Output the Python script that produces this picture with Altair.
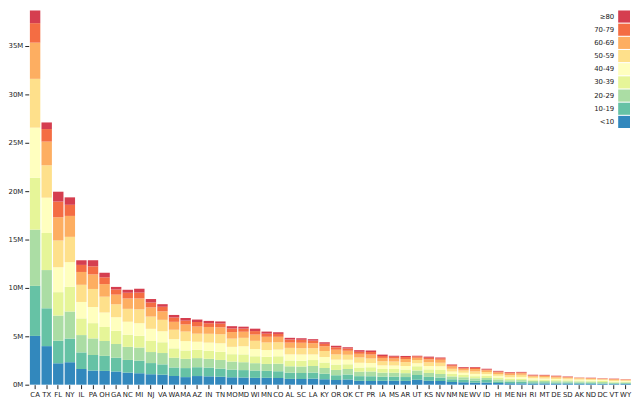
import altair as alt
import pandas as pd

states = ["CA","TX","FL","NY","IL","PA","OH","GA","NC","MI","NJ","VA","WA","MA","AZ","IN","TN","MO","MD","WI",
          "MN","CO","AL","SC","LA","KY","OR","OK","CT","PR","IA","MS","AR","UT","KS","NV","NM","NE","WV","ID",
          "HI","ME","NH","RI","MT","DE","SD","AK","ND","DC","VT","WY"]

ages = ["<10", "10-19", "20-29", "30-39", "40-49", "50-59", "60-69", "70-79", "≥80"]
colors = ["#3288bd", "#66c2a5", "#abdda4", "#e6f598", "#ffffbf", "#fee08b", "#fdae61", "#f46d43", "#d53e4f"]

under_10 = [5038433,3983091,2211012,2319945,1619682,1458931,1422838,1363930,1249576,1182117,1079136,1033629,895790,781087,892083,863029,818404,763948,741952,705648,711604,690830,598478,599591,625159,553127,485345,535353,399369,389428,401712,400288,392177,513515,401751,369362,276468,263518,207017,236658,176484,137954,138762,111377,126020,112177,120366,106741,99477,74377,63768,78217]
a10_19 = [5170341,3910528,2331102,2446188,1715984,1608018,1555069,1421557,1306640,1303424,1153625,1065461,882812,933346,912735,905594,842873,792935,764730,755224,714399,697447,638789,619144,618618,575793,489727,528917,481065,479749,418667,421329,397185,479126,402092,360263,282662,246340,218547,239509,163559,155490,171154,136885,126294,117854,113383,99926,91069,62783,79351,75535]
a20_29 = [5809455,3946447,2597830,2790916,1789739,1712448,1535961,1418696,1350038,1350640,1139170,1170634,1004428,955828,939804,905590,895337,830861,814480,760961,714469,780508,661666,659908,683813,593819,547698,549463,462323,480184,419456,414195,399698,465219,406956,385016,295119,252935,232027,218684,204569,155686,163542,153674,136346,127554,116748,120674,124509,136467,81765,82586]
a30_39 = [5354112,3830775,2416176,2548733,1721954,1577339,1446094,1357210,1260551,1208723,1138310,1112111,970613,861446,857054,827086,837313,763002,808090,715298,738131,766382,603013,599734,616042,558201,555312,503813,424890,441842,383638,373463,372998,436010,368732,401895,260105,240416,220494,209500,189852,150616,145604,126226,125004,114063,105834,102008,94713,121520,70092,79454]
a40_49 = [5179258,3646815,2575576,2547726,1697069,1666227,1495521,1404698,1337210,1304568,1258480,1134928,946917,970146,833290,844059,882329,756898,839041,742902,698473,691205,625599,628436,578807,580398,509555,463012,496265,456009,370719,377284,370157,328569,344427,380308,243939,217346,236206,194678,182315,173402,183349,133286,116502,117588,95059,91539,79271,80736,82169,65016]
a50_59 = [5042094,3345209,2762983,2617052,1773366,1865036,1636011,1337985,1329990,1433049,1265209,1181153,974625,985817,834858,911778,930025,850520,871317,849811,779474,750582,673864,659223,652113,623164,537941,506141,546361,452503,427554,397864,395070,315025,389834,376757,280828,245233,259117,205170,188769,212243,216706,146728,149800,133331,115123,104569,93795,74929,100385,73886]
a60_69 = [3737461,2447335,2404659,2162659,1326121,1501858,1296106,998253,1072466,1130220,952502,879050,817114,735783,737884,704523,717542,677040,628737,646522,590830,570026,548376,566099,509227,486395,485105,414220,380044,411924,344037,311974,329734,251564,300759,290808,241541,189922,241364,179429,163999,179109,164838,115087,130977,109280,92254,70473,71209,56674,81133,62006]
a70_79 = [2011678,1294442,1615547,1148040,728821,836225,701419,528108,591010,600960,506659,470840,445658,390961,466153,384788,389059,366727,322859,359654,323070,297237,316598,304883,264960,255852,249870,232710,209889,264008,197223,183325,197985,139005,166104,162614,134237,101426,126983,97621,93219,90699,80934,56863,64825,60983,52063,28422,37094,31144,40043,29839]
a80_plus = [1311374,683470,1019566,769320,478948,628633,474010,269182,306727,397585,354593,268287,265063,275638,254716,243131,218998,240707,201246,248999,214052,172628,174781,162474,152848,145290,159416,135917,165071,157397,143583,101591,113468,69939,117637,82059,72813,71950,78020,54234,64473,62183,55961,47116,40268,34904,39099,12503,28950,21207,28451,16296]

y_ticks = [0, 5000000, 10000000, 15000000, 20000000, 25000000, 30000000, 35000000]

series = [under_10, a10_19, a20_29, a30_39, a40_49, a50_59, a60_69, a70_79, a80_plus]
rows = []
for ai, (age, vals) in enumerate(zip(ages, series)):
    for st, v in zip(states, vals):
        rows.append({"state": st, "age": age, "idx": ai, "population": v})
df = pd.DataFrame(rows)
legend_df = pd.DataFrame({"age": ages})

color_scale = alt.Scale(domain=ages, range=colors)

bars = alt.Chart(df).mark_bar(stroke=None).encode(
    x=alt.X("state:N", sort=states, title=None,
            scale=alt.Scale(paddingInner=0.1, paddingOuter=0.1),
            axis=alt.Axis(labelAngle=0, domain=False, tickSize=4, labelPadding=2)),
    y=alt.Y("population:Q", stack="zero", title=None,
            scale=alt.Scale(nice=False, zero=True),
            axis=alt.Axis(values=y_ticks, labelExpr="datum.value / 1000000 + 'M'",
                          domain=False, grid=False, tickSize=4, labelPadding=2)),
    color=alt.Color("age:N", scale=color_scale, legend=None),
    order=alt.Order("idx:Q", sort="ascending"),
)

legend_y = alt.Y("age:N", sort=list(reversed(ages)), axis=None,
                 scale=alt.Scale(range=[0, 119], paddingInner=0.08, paddingOuter=0))

leg_rect = alt.Chart(legend_df).mark_rect(
    x={"expr": "width - 14"}, x2={"expr": "width - 2"}
).encode(
    y=legend_y,
    color=alt.Color("age:N", scale=color_scale, legend=None),
)

leg_text = alt.Chart(legend_df).mark_text(
    x={"expr": "width - 18"}, align="right", baseline="middle",
    font="DejaVu Sans", fontSize=7, color="#222"
).encode(
    y=legend_y,
    text="age:N",
)

legend = alt.layer(leg_rect, leg_text)

chart = alt.layer(bars, legend).resolve_scale(y="independent").properties(
    width=632, height=392,
    autosize=alt.AutoSizeParams(type="fit", contains="padding"),
    padding=0,
).configure_view(stroke=None).configure_axis(
    labelFont="DejaVu Sans", labelFontSize=7, labelColor="#222",
    tickColor="#222", tickWidth=1
)

chart.save("out.html", embed_options={"renderer": "svg", "actions": False})
